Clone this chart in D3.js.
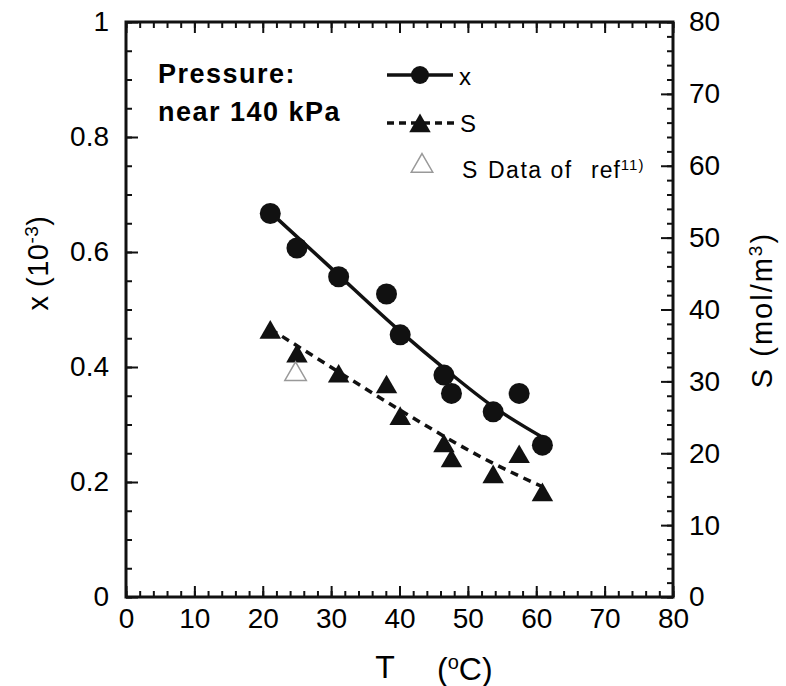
<!DOCTYPE html>
<html>
<head>
<meta charset="utf-8">
<script src="https://cdn.jsdelivr.net/npm/d3@7"></script>
<style>
  body { margin: 0; background: #fff; }
  svg text { font-family: "Liberation Sans", Arial, Helvetica, sans-serif; fill: #000; }
  .tick line { stroke: #111; stroke-width: 2; }
  .tick text { font-size: 28px; }
</style>
</head>
<body>
<script>

// measured points (T in degC)
var temps = [21.1, 25.0, 31.1, 38.1, 40.1, 46.5, 47.6, 53.7, 57.5, 60.9];
var xVals = [0.667, 0.607, 0.557, 0.527, 0.456, 0.386, 0.354, 0.322, 0.354, 0.264];
var sVals = [36.8, 33.5, 30.7, 29.2, 24.8, 21.0, 18.9, 16.7, 19.5, 14.2];

// S data of ref 11)
var refT = [24.8];
var refS = [31.0];

// fitted curves
var xFitT = [21.2, 30.0, 40.1, 46.7, 53.7, 61.6];
var xFitV = [0.668, 0.572, 0.462, 0.396, 0.331, 0.273];
var sFitT = [21.1, 31.3, 40.1, 53.7, 61.0];
var sFitV = [37.3, 31.2, 26.0, 18.6, 15.3];

var tTicks = [0, 10, 20, 30, 40, 50, 60, 70, 80];
var xTicks = [0, 0.2, 0.4, 0.6, 0.8, 1];
var sTicks = [0, 10, 20, 30, 40, 50, 60, 70, 80];

var W = 786, H = 686,
    margin = {top: 22, right: 113, bottom: 89, left: 126},
    width = W - margin.left - margin.right,
    height = H - margin.top - margin.bottom;

var x = d3.scaleLinear().domain([0, 80]).range([0, width]),
    yL = d3.scaleLinear().domain([0, 1]).range([height, 0]),
    yR = d3.scaleLinear().domain([0, 80]).range([height, 0]);

var svg = d3.select("body").append("svg")
    .attr("width", W)
    .attr("height", H);

var g = svg.append("g")
    .attr("transform", "translate(" + margin.left + "," + margin.top + ")");

// minor ticks (no labels)
function minor(axis, vals) {
  return axis.tickValues(vals).tickSize(-6).tickFormat("");
}
var tMinor = d3.range(0, 80.1, 2),
    xMinor = d3.range(0, 1.001, 0.05),
    sMinor = d3.range(0, 80.1, 2);

g.append("g").attr("transform", "translate(0," + height + ")").call(minor(d3.axisBottom(x), tMinor));
g.append("g").call(minor(d3.axisTop(x), tMinor));
g.append("g").call(minor(d3.axisLeft(yL), xMinor));
g.append("g").attr("transform", "translate(" + width + ",0)").call(minor(d3.axisRight(yR), sMinor));

// major ticks
g.append("g")
    .attr("transform", "translate(0," + height + ")")
    .call(d3.axisBottom(x).tickValues(tTicks).tickSize(-11).tickPadding(11));
g.append("g")
    .call(d3.axisTop(x).tickValues(tTicks).tickSize(-11).tickFormat(""));
g.append("g")
    .call(d3.axisLeft(yL).tickValues(xTicks).tickSize(-12).tickPadding(17).tickFormat(d3.format("")));
g.append("g")
    .attr("transform", "translate(" + width + ",0)")
    .call(d3.axisRight(yR).tickValues(sTicks).tickSize(-12).tickPadding(16));

g.selectAll(".domain").remove();

// frame
g.append("rect")
    .attr("width", width)
    .attr("height", height)
    .attr("fill", "none")
    .attr("stroke", "#111")
    .attr("stroke-width", 3);

// fitted lines
var lineX = d3.line()
    .curve(d3.curveMonotoneX)
    .x(function(d, i) { return x(xFitT[i]); })
    .y(function(d) { return yL(d); });

var lineS = d3.line()
    .curve(d3.curveMonotoneX)
    .x(function(d, i) { return x(sFitT[i]); })
    .y(function(d) { return yR(d); });

g.append("path")
    .datum(xFitV)
    .attr("d", lineX)
    .attr("fill", "none")
    .attr("stroke", "#111")
    .attr("stroke-width", 3.5);

g.append("path")
    .datum(sFitV)
    .attr("d", lineS)
    .attr("fill", "none")
    .attr("stroke", "#111")
    .attr("stroke-width", 3.5)
    .attr("stroke-dasharray", "8,6");

var tri = d3.symbol().type(d3.symbolTriangle).size(200);

// x points
g.selectAll(".dot")
    .data(xVals)
  .enter().append("circle")
    .attr("class", "dot")
    .attr("cx", function(d, i) { return x(temps[i]); })
    .attr("cy", function(d) { return yL(d); })
    .attr("r", 10.5)
    .attr("fill", "#111");

// S points
g.selectAll(".tri")
    .data(sVals)
  .enter().append("path")
    .attr("class", "tri")
    .attr("d", tri)
    .attr("transform", function(d, i) { return "translate(" + x(temps[i]) + "," + yR(d) + ")"; })
    .attr("fill", "#111");

g.selectAll(".ref")
    .data(refS)
  .enter().append("path")
    .attr("class", "ref")
    .attr("d", tri)
    .attr("transform", function(d, i) { return "translate(" + x(refT[i]) + "," + yR(d) + ")"; })
    .attr("fill", "none")
    .attr("stroke", "#999")
    .attr("stroke-width", 1.5);

// axis titles
var xt = svg.append("text")
    .attr("transform", "translate(48,263) rotate(-90)")
    .attr("text-anchor", "middle")
    .style("font-size", "29px")
    .style("letter-spacing", "0.5px");
xt.append("tspan").text("x (10");
xt.append("tspan").attr("baseline-shift", "super").style("font-size", "19px").text("-3");
xt.append("tspan").text(")");

var st = svg.append("text")
    .attr("transform", "translate(772,310) rotate(-90)")
    .attr("text-anchor", "middle")
    .style("font-size", "29px")
    .style("letter-spacing", "2px");
st.append("tspan").text("S  (mol/m");
st.append("tspan").attr("baseline-shift", "super").style("font-size", "19px").text("3");
st.append("tspan").text(")");

svg.append("text")
    .attr("x", 385).attr("y", 678)
    .attr("text-anchor", "middle")
    .style("font-size", "32px")
    .text("T");

var tc = svg.append("text")
    .attr("x", 437).attr("y", 680)
    .style("font-size", "32px");
tc.append("tspan").text("(");
tc.append("tspan").attr("baseline-shift", "super").style("font-size", "20px").text("o");
tc.append("tspan").text("C)");

// pressure note
svg.append("text")
    .attr("x", 158).attr("y", 83)
    .style("font-size", "27px").style("font-weight", "bold").style("letter-spacing", "1.5px")
    .text("Pressure:");
svg.append("text")
    .attr("x", 158).attr("y", 121)
    .style("font-size", "27px").style("font-weight", "bold").style("letter-spacing", "1.5px")
    .text("near 140 kPa");

// legend
var leg = svg.append("g");
leg.append("line").attr("x1", 387).attr("x2", 453).attr("y1", 75).attr("y2", 75)
    .attr("stroke", "#111").attr("stroke-width", 3.5);
leg.append("circle").attr("cx", 420).attr("cy", 75).attr("r", 9).attr("fill", "#111");
leg.append("text").attr("x", 459).attr("y", 85).style("font-size", "24px").text("x");

leg.append("line").attr("x1", 387).attr("x2", 455).attr("y1", 123).attr("y2", 123)
    .attr("stroke", "#111").attr("stroke-width", 3.5).attr("stroke-dasharray", "7,5");
leg.append("path").attr("d", tri).attr("transform", "translate(420,126)").attr("fill", "#111");
leg.append("text").attr("x", 460).attr("y", 132).style("font-size", "24px").text("S");

leg.append("path").attr("d", tri).attr("transform", "translate(422,166)")
    .attr("fill", "none").attr("stroke", "#999").attr("stroke-width", 1.5);
leg.append("text").attr("x", 462).attr("y", 178).style("font-size", "23px").text("S");
leg.append("text").attr("x", 488).attr("y", 178).style("font-size", "23px")
    .style("letter-spacing", "1.5px").text("Data of");
var rf = leg.append("text").attr("x", 591).attr("y", 178).style("font-size", "23px")
    .style("letter-spacing", "1px");
rf.append("tspan").text("ref");
rf.append("tspan").attr("baseline-shift", "super").style("font-size", "15px").text("11)");

</script>
</body>
</html>
